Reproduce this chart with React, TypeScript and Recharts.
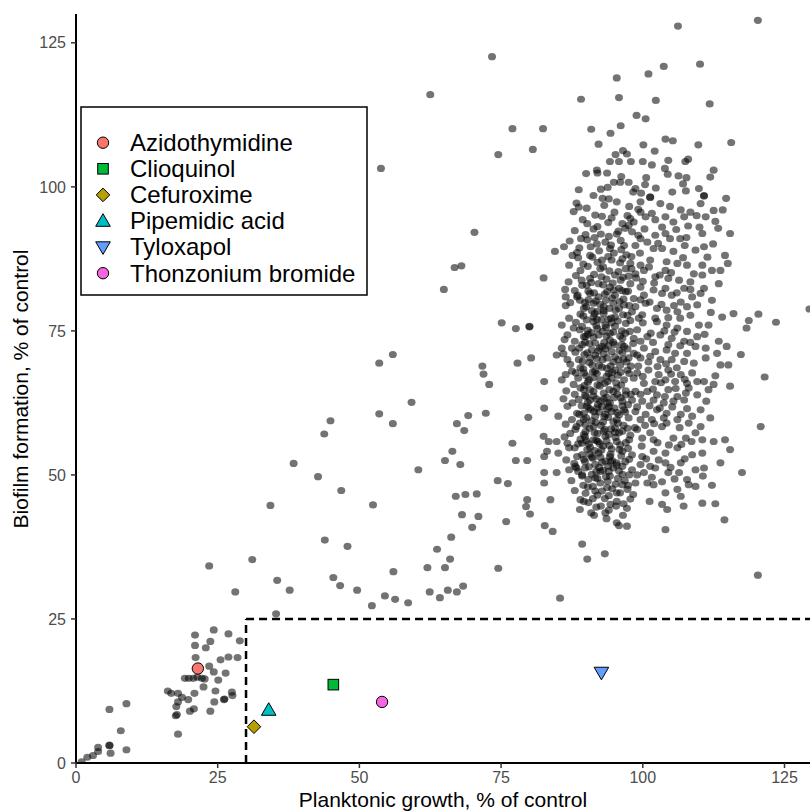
import React from 'react';
import { ScatterChart, Scatter, XAxis, YAxis, ReferenceLine } from 'recharts';

type Pt = [number, number];

const FONT = '"Liberation Sans", Arial, Helvetica, sans-serif';

const xTicks = [0, 25, 50, 75, 100, 125];
const yTicks = [0, 25, 50, 75, 100, 125];
const xMax = 129.5;
const yMax = 130;
// hit thresholds (dashed box)
const growthCut = 30;
const biofilmCut = 25;

// screening compounds: [planktonic growth, biofilm formation]
const lowCluster: Pt[] = [
    [1.0, 0.2], [2.0, 1.0], [3.0, 1.3], [3.9, 2.0], [3.9, 2.7], [5.9, 3.0], [5.9, 3.1], [6.1, 1.7], [8.9, 2.3], [7.9, 5.6], [5.9, 9.3], [8.9, 10.3],
    [18.0, 5.0], [17.6, 8.2], [17.8, 8.4], [20.1, 9.0], [20.8, 9.4], [23.7, 9.0], [17.7, 9.8], [18.0, 10.6], [24.4, 10.6], [26.1, 11.0], [26.2, 11.1],
    [16.2, 12.5], [16.8, 12.1], [18.0, 12.1], [18.7, 11.4], [19.8, 11.0], [20.9, 12.1], [24.6, 12.5], [27.5, 12.3], [27.6, 11.7], [22.5, 13.2],
    [19.2, 14.7], [19.9, 14.7], [20.7, 14.7], [21.4, 14.9], [22.2, 14.7], [22.7, 14.6], [25.1, 14.4], [23.5, 16.8], [24.3, 15.8], [26.4, 15.6],
    [25.5, 17.9], [26.9, 18.4], [28.5, 18.3], [21.1, 18.3], [21.0, 20.4], [22.9, 20.0], [23.7, 21.1], [21.0, 22.2], [24.3, 23.1], [26.9, 22.4],
    [28.9, 21.2], [28.1, 29.7], [23.5, 34.2], [31.1, 35.3],
];

const midScatter: Pt[] = [
    [34.3, 44.7], [52.4, 44.8], [43.9, 38.7], [47.9, 37.6], [56.0, 33.2], [45.4, 32.2], [46.6, 30.8], [49.6, 30.0], [35.5, 31.7], [37.7, 30.0],
    [35.3, 25.9], [54.5, 29.0], [56.3, 28.4], [58.6, 27.8], [52.2, 27.3],
    [62.4, 29.7], [64.2, 28.7], [65.6, 30.0], [67.2, 29.7], [68.3, 30.7], [62.0, 33.9], [65.1, 33.9], [66.0, 35.4], [63.7, 37.1], [66.2, 39.2],
    [68.1, 43.1], [71.0, 42.8], [69.9, 40.9], [75.9, 41.9], [74.5, 33.8], [85.4, 28.6], [82.7, 41.2], [84.1, 40.2], [80.1, 43.2], [79.4, 44.5], [79.6, 45.7],
    [89.3, 38.0], [90.2, 35.4], [93.3, 36.3], [90.9, 43.4], [91.4, 43.0], [93.4, 43.4], [95.4, 41.7], [95.8, 41.2], [97.2, 41.1], [97.2, 44.2],
    [94.0, 43.9], [101.2, 45.4], [103.4, 44.9], [104.3, 44.0], [104.0, 40.5], [107.2, 44.6], [110.5, 45.1], [112.8, 45.0], [114.4, 42.2], [120.3, 32.6],
    [75.1, 76.4], [77.6, 75.4], [80.0, 75.7], [80.0, 75.8], [55.9, 70.9], [53.5, 69.4], [71.7, 68.9], [71.9, 67.5], [72.9, 65.7], [77.9, 69.4],
    [80.3, 70.3], [59.2, 62.6], [53.5, 60.6], [55.9, 58.9], [69.2, 60.3], [72.3, 60.7], [67.2, 58.9], [68.5, 57.7], [79.8, 60.0], [66.4, 54.1],
    [65.1, 52.5], [67.8, 51.8], [60.4, 50.9], [77.0, 55.5], [77.6, 52.5], [79.6, 52.5], [74.4, 49.0], [76.2, 48.5], [67.0, 46.3], [68.7, 46.6],
    [70.7, 46.7], [44.9, 59.4], [43.8, 57.1], [38.4, 52.0], [42.7, 49.7], [46.8, 47.3],
    [66.8, 86.0], [68.0, 86.3], [64.9, 82.2],
];

const upperScatter: Pt[] = [
    [73.4, 122.6], [62.5, 116.0], [53.8, 103.2], [70.3, 92.1], [77.0, 110.1], [74.5, 105.6],
    [106.2, 127.9], [120.3, 128.9], [95.4, 118.9], [101.0, 119.6], [103.7, 120.9], [110.1, 121.3], [89.1, 115.2], [95.8, 115.5], [102.3, 115.0],
    [111.8, 114.4], [98.9, 112.4], [100.5, 111.8], [82.4, 110.1], [90.9, 110.0], [96.1, 110.6], [94.3, 109.3], [80.6, 106.5], [92.2, 107.4],
    [104.0, 108.3], [105.3, 108.0], [100.1, 107.3], [109.8, 107.3], [115.6, 107.7], [95.2, 105.6], [96.5, 106.3], [97.2, 105.7], [102.1, 106.2],
    [94.2, 104.4], [95.8, 104.4], [97.9, 104.4], [100.0, 104.4], [101.6, 103.8], [104.5, 104.6], [107.5, 104.4], [108.0, 104.8], [103.9, 103.2],
    [104.4, 102.2], [112.5, 102.9], [111.9, 101.7], [90.0, 102.3], [91.9, 102.9], [92.0, 102.4], [93.7, 102.4], [96.2, 101.8], [94.9, 100.8],
    [96.0, 100.8], [97.5, 100.8], [100.6, 101.6], [100.4, 100.4], [98.7, 99.7], [98.3, 99.1], [99.7, 98.9], [106.3, 101.9], [107.7, 101.6],
    [107.1, 100.5], [107.6, 99.3], [102.3, 99.8], [105.2, 99.1], [88.7, 99.5], [92.6, 99.6], [93.8, 99.9], [110.8, 98.4], [110.8, 98.5],
    [114.7, 98.0], [101.3, 98.2], [92.9, 98.0],
];

const rightScatter: Pt[] = [
    [120.4, 77.9], [118.7, 76.8], [118.3, 75.5], [123.5, 76.5], [129.4, 78.8], [117.3, 70.9], [121.5, 67.0], [120.8, 58.4], [117.5, 50.4],
];

const coreUpper: Pt[] = [
    [109.9, 99.7],
    [95.4, 97.4], [97.6, 96.6], [99.6, 97.4], [101.3, 98.2], [103.1, 97.1], [104.8, 96.6], [106.7, 96.0], [108.4, 95.6], [110.2, 97.1], [112.5, 95.9],
    [114.1, 96.0], [87.8, 95.7], [88.7, 96.5], [91.3, 98.5], [94.0, 97.9],
    [92.8, 94.9], [94.5, 94.6], [96.4, 93.6], [97.8, 94.5], [99.6, 95.6], [100.5, 94.8], [102.2, 94.3], [104.0, 94.8], [105.4, 93.9], [107.3, 94.8],
    [109.5, 95.0], [111.1, 94.8], [112.8, 94.0], [90.2, 93.6], [91.3, 92.7], [95.7, 92.3], [97.5, 93.3],
    [89.9, 91.7], [91.9, 90.1], [94.0, 91.4], [96.1, 90.7], [98.1, 92.2], [99.6, 91.0], [100.8, 90.4], [102.2, 91.6], [104.0, 91.9], [104.8, 91.0],
    [106.6, 91.0], [107.7, 91.2], [110.5, 91.9], [112.4, 90.1], [115.4, 91.9], [94.2, 89.3], [96.7, 89.8], [98.7, 89.8],
    [84.5, 88.8], [86.1, 89.6], [87.6, 88.1], [88.6, 87.7], [90.7, 88.1], [92.8, 87.3], [94.5, 87.3], [96.4, 87.5], [97.8, 86.7], [99.6, 86.4],
    [101.3, 87.3], [101.9, 89.3], [103.4, 89.3], [104.2, 87.0], [106.1, 86.7], [107.8, 86.4], [109.3, 89.0], [110.8, 89.6], [114.5, 88.1],
    [115.0, 86.7], [110.5, 86.4],
    [82.5, 84.2], [89.0, 85.5], [90.7, 84.1], [92.5, 85.8], [95.1, 84.7], [97.0, 85.8], [98.7, 84.9], [100.2, 85.5], [102.2, 84.4], [104.0, 85.5],
    [106.4, 83.8], [108.4, 83.5], [110.5, 84.7], [112.2, 85.5], [113.7, 85.5], [109.0, 84.9], [89.3, 82.9], [92.2, 83.2], [94.2, 82.6], [96.1, 83.8],
    [97.8, 83.2], [99.6, 82.6], [104.5, 84.1], [107.3, 82.4], [110.8, 82.4], [113.4, 83.2],
    [86.3, 82.2], [88.4, 80.9], [90.7, 81.5], [92.2, 80.9], [93.7, 81.8], [95.1, 81.2], [97.0, 81.8], [98.4, 80.6], [100.2, 81.2], [101.9, 82.1],
    [103.4, 81.5], [105.1, 81.2], [106.7, 80.0], [108.7, 80.9], [110.2, 81.5], [112.2, 80.3], [86.4, 80.9], [86.4, 79.4], [89.6, 78.9], [91.3, 79.8],
    [93.1, 79.2], [94.8, 79.8], [96.7, 79.5], [98.7, 79.2], [100.5, 79.8], [102.5, 78.9], [104.2, 78.6], [106.1, 78.3], [107.8, 79.2], [109.6, 79.5],
    [91.3, 77.4], [93.1, 78.0], [95.1, 77.4], [97.3, 77.7], [99.3, 77.2], [104.5, 77.3], [108.4, 77.7], [114.0, 77.4], [116.0, 78.0],
];

const coreLower: Pt[] = [
    [85.7, 76.0], [87.8, 75.5], [89.3, 75.8], [91.3, 76.6], [93.4, 76.0], [95.1, 75.8], [97.0, 76.3], [99.0, 75.2], [100.8, 74.0], [102.5, 76.6],
    [104.2, 76.0], [106.1, 75.5], [107.8, 74.9], [109.9, 76.0], [111.6, 76.0], [86.7, 74.3], [89.6, 74.0], [92.2, 74.3], [94.2, 74.6], [96.4, 73.7],
    [98.4, 73.7], [103.1, 74.3], [105.1, 73.7], [107.3, 73.2], [109.6, 74.0], [113.4, 73.2], [114.8, 72.3],
    [84.8, 70.8], [85.7, 72.0], [87.5, 72.0], [89.3, 72.6], [91.0, 71.7], [92.8, 72.3], [94.5, 71.4], [96.7, 72.3], [98.4, 71.1], [100.2, 72.0],
    [102.2, 71.4], [104.2, 71.7], [105.7, 71.1], [107.8, 71.1], [109.3, 72.3], [111.1, 72.0], [113.1, 71.1], [86.7, 70.0], [88.7, 70.0], [90.7, 70.3],
    [93.7, 70.3], [95.7, 70.0], [97.5, 70.3], [99.6, 70.3], [101.3, 70.6], [103.1, 70.0], [105.1, 70.0], [107.3, 69.7], [109.0, 69.4], [111.1, 70.3],
    [113.7, 69.1], [115.1, 69.1],
    [82.6, 66.2], [85.7, 66.5], [87.5, 68.0], [89.6, 67.7], [91.6, 68.0], [93.7, 68.5], [95.1, 68.2], [97.3, 68.2], [99.0, 67.7], [101.0, 68.2],
    [102.8, 67.4], [104.5, 68.2], [106.7, 67.4], [108.7, 67.7], [110.8, 66.2], [112.5, 65.7], [115.4, 65.4], [86.4, 67.4], [87.8, 65.7], [90.5, 66.5],
    [92.5, 66.5], [94.5, 66.8], [96.7, 66.5], [98.4, 66.8], [100.2, 65.9], [102.2, 66.2], [104.0, 66.5], [105.7, 66.2], [107.8, 65.9], [109.6, 66.2],
    [89.6, 64.8], [91.3, 64.5], [93.1, 64.2], [94.8, 64.5], [97.0, 63.9], [98.7, 64.5], [100.8, 64.5], [102.5, 63.9], [104.5, 64.8], [106.1, 63.6],
    [108.1, 65.1], [109.6, 63.9], [111.6, 64.8], [90.7, 63.0], [92.5, 62.8], [94.2, 62.5], [96.4, 62.8], [98.1, 63.0], [99.9, 62.8], [101.9, 63.0],
    [103.7, 62.5], [105.4, 62.8], [107.3, 63.0],
    [82.6, 61.6], [85.1, 60.2], [86.7, 61.9], [88.4, 60.7], [90.5, 61.6], [92.8, 61.9], [94.5, 61.0], [96.7, 61.3], [98.7, 61.0], [100.5, 60.5],
    [102.5, 61.3], [104.2, 60.7], [106.7, 60.5], [108.7, 60.2], [111.9, 59.9], [87.5, 59.6], [89.6, 59.6], [91.6, 60.2], [93.4, 60.5], [95.4, 59.6],
    [97.5, 59.9], [99.6, 59.6], [101.6, 59.6], [103.7, 59.9], [106.1, 59.6], [108.1, 59.0], [110.2, 58.4],
    [82.5, 56.7], [84.8, 55.8], [86.7, 55.5], [88.1, 57.9], [89.6, 57.0], [91.3, 58.4], [93.1, 57.6], [95.1, 58.1], [97.3, 58.1], [99.0, 57.9],
    [101.3, 57.3], [103.4, 58.4], [105.4, 56.4], [107.6, 56.4], [109.3, 57.3], [110.5, 56.1], [112.5, 55.8], [114.5, 56.1], [83.4, 55.8], [89.3, 55.5],
    [91.3, 56.1], [93.4, 56.7], [95.4, 55.8], [97.6, 56.1], [99.9, 56.4], [101.9, 56.1],
    [82.6, 53.2], [83.1, 54.1], [85.1, 53.8], [87.0, 54.7], [88.4, 53.2], [90.2, 54.4], [92.2, 53.8], [94.2, 53.2], [96.4, 54.1], [98.1, 53.5],
    [99.9, 53.2], [101.9, 54.1], [104.0, 53.8], [106.1, 54.7], [108.7, 53.5], [110.5, 53.8], [115.4, 54.4], [89.6, 52.7], [91.6, 51.8], [93.4, 52.4],
    [95.4, 52.1], [97.6, 52.7], [99.6, 51.8], [101.3, 51.5], [104.0, 52.1], [106.7, 52.1],
    [82.6, 50.4], [82.6, 48.6], [84.8, 50.4], [87.0, 50.9], [88.1, 51.5], [89.3, 49.8], [91.0, 50.1], [92.5, 50.6], [94.2, 49.8], [96.4, 50.1],
    [98.1, 50.9], [100.2, 50.4], [102.2, 51.2], [104.5, 50.4], [106.4, 50.4], [107.8, 49.2], [109.3, 50.9], [110.8, 51.2], [113.7, 52.1],
    [83.7, 45.7], [89.6, 45.4], [91.6, 47.2], [93.7, 47.8], [95.4, 46.9], [97.3, 47.5], [98.7, 48.6], [100.8, 48.6], [101.9, 48.3], [104.0, 46.9],
    [106.1, 47.5], [108.1, 48.3], [109.3, 48.0], [92.5, 48.6], [96.4, 48.3], [106.7, 46.3], [95.4, 45.4],
];

// overlapping compounds in the darkest part of the cloud
const coreDense: Pt[] = [
    [88.3, 97.2], [90.1, 96.3], [91.6, 95.1], [93.2, 96.8], [89.4, 94.3], [92.0, 93.1], [93.9, 93.8], [95.0, 95.6], [97.3, 95.0], [88.0, 92.4],
    [91.5, 91.2], [93.4, 90.4], [95.4, 91.8], [96.9, 92.8], [98.4, 93.9],
    [87.1, 90.6], [88.8, 89.4], [90.2, 90.8], [92.3, 88.9], [94.9, 88.5], [97.1, 88.2], [89.5, 86.6], [91.1, 87.8], [93.0, 86.1], [94.1, 85.4],
    [96.0, 86.8], [98.0, 87.9], [87.0, 86.4], [88.2, 84.6], [91.4, 84.8], [93.6, 84.0], [96.5, 84.3], [98.0, 85.8],
    [86.9, 83.5], [88.0, 82.0], [90.1, 82.9], [91.4, 81.6], [93.0, 83.0], [94.6, 80.7], [95.8, 82.4], [97.4, 81.9], [87.2, 79.9], [88.9, 80.3],
    [90.0, 79.2], [92.0, 78.4], [93.5, 80.3], [95.2, 78.6], [96.6, 80.5], [98.1, 78.3], [89.0, 77.9], [91.9, 77.0],
    [87.0, 77.2], [88.2, 76.5], [90.3, 75.1], [92.0, 75.4], [93.9, 77.0], [94.8, 74.8], [96.3, 75.0], [97.8, 76.8], [86.2, 73.5], [88.0, 73.2],
    [89.8, 73.0], [91.3, 73.9], [93.2, 73.0], [95.0, 72.6], [96.9, 74.6], [98.3, 72.8], [90.3, 74.4], [92.4, 72.0],
    [86.0, 71.0], [88.1, 71.3], [89.7, 70.9], [91.6, 70.8], [93.1, 71.0], [94.8, 69.6], [96.4, 71.2], [97.9, 68.9], [87.2, 69.2], [89.0, 68.6],
    [90.6, 69.5], [92.3, 69.0], [94.0, 67.6], [95.6, 67.3], [97.1, 69.6], [88.6, 66.8], [91.3, 66.9], [93.3, 65.9], [89.7, 65.5],
    [86.5, 64.6], [88.0, 64.0], [90.0, 63.6], [91.8, 63.2], [93.6, 63.5], [95.5, 64.0], [97.4, 62.2], [87.6, 62.5], [89.2, 62.0], [90.8, 61.3],
    [92.3, 60.9], [94.0, 61.8], [95.8, 60.4], [97.0, 64.6], [88.8, 60.5], [91.0, 59.4], [93.0, 59.2], [86.0, 63.2], [96.2, 65.6],
    [86.4, 58.8], [88.3, 58.4], [89.9, 58.7], [92.0, 57.2], [94.0, 57.0], [95.8, 57.3], [97.8, 56.9], [87.2, 57.2], [89.0, 56.2], [90.5, 55.4],
    [92.4, 55.4], [94.5, 54.5], [96.0, 55.2], [88.0, 54.7], [91.5, 54.2], [93.0, 55.0], [97.4, 54.6], [86.2, 56.6],
    [86.5, 52.6], [87.9, 52.0], [89.8, 51.2], [91.2, 52.9], [93.0, 50.8], [94.8, 51.2], [96.4, 51.5], [97.6, 50.0], [88.6, 50.6], [90.4, 49.2],
    [92.0, 49.4], [93.8, 48.9], [95.6, 49.4], [87.4, 49.0], [89.5, 48.2], [91.2, 48.0], [94.6, 47.6], [96.8, 49.0],
    [88.0, 47.3], [89.9, 46.8], [92.0, 46.5], [93.3, 45.9], [95.3, 44.6], [97.8, 45.8], [90.4, 45.2], [91.8, 44.4], [88.9, 44.0], [93.6, 42.4],
    [96.5, 43.0], [98.3, 46.6],
];

// second layer of the darkest core, x about 88 to 98
const coreDeep: Pt[] = [
    [89.1, 91.0], [90.8, 89.6], [92.6, 91.8], [94.4, 89.9], [96.2, 89.1], [88.4, 88.6], [90.3, 86.2], [92.0, 86.9], [93.9, 87.9], [95.7, 85.3],
    [97.5, 84.5], [89.2, 83.8], [90.9, 83.4], [92.7, 84.4], [94.7, 83.3], [96.3, 82.0], [88.5, 81.2], [90.4, 80.4], [92.5, 79.6], [94.1, 78.9],
    [95.9, 80.1], [97.6, 79.4], [89.5, 77.6], [91.0, 78.5], [92.7, 76.9], [94.5, 76.4], [96.5, 77.8], [88.9, 75.2], [90.9, 74.7], [92.9, 74.9],
    [94.2, 73.4], [96.0, 74.1], [97.7, 74.9], [88.8, 72.0], [90.6, 72.8], [92.1, 71.5], [93.9, 72.4], [95.9, 71.6], [97.3, 71.9], [89.4, 69.7],
    [91.1, 69.1], [92.9, 70.0], [94.3, 68.9], [96.0, 69.0], [97.6, 67.6], [88.2, 67.7], [90.0, 67.2], [91.9, 67.6], [93.6, 67.1], [95.3, 66.0],
    [89.0, 65.1], [90.7, 64.8], [92.4, 65.4], [94.1, 64.8], [96.1, 63.4], [97.9, 64.0], [88.7, 63.1], [90.3, 62.6], [92.1, 62.2], [93.8, 62.5],
    [95.0, 61.6], [96.9, 60.9], [89.6, 60.7], [91.4, 61.0], [93.2, 60.1], [94.8, 59.2], [96.6, 58.6], [88.9, 59.0], [90.6, 58.1], [92.6, 58.6],
    [94.4, 58.0], [96.4, 57.6], [89.8, 56.6], [91.8, 56.0], [93.6, 55.9], [95.2, 56.5], [97.0, 55.6], [88.6, 55.4], [90.7, 54.8], [92.7, 54.3],
    [94.3, 53.6], [96.2, 53.3], [89.3, 53.5], [91.0, 53.1], [92.8, 52.2], [94.6, 52.5], [96.9, 52.3], [88.3, 51.2], [90.5, 51.4], [92.3, 51.3],
    [94.0, 50.6], [95.8, 50.7], [89.3, 50.0], [91.6, 49.5], [93.5, 49.7], [95.2, 48.4], [97.4, 48.2], [90.3, 47.9], [92.8, 47.2], [94.0, 46.4],
    [96.0, 46.9], [89.0, 45.7], [91.2, 45.9], [94.3, 44.9], [96.6, 45.0], [92.6, 44.6], [99.2, 91.6], [98.8, 84.2], [99.0, 70.8], [98.6, 58.2],
];

// third layer where the reference cloud is nearly solid, x about 89 to 96
const coreBlack: Pt[] = [
    [90.4, 81.9], [91.7, 80.2], [93.3, 81.4], [94.9, 82.1], [89.8, 79.9], [91.5, 78.0], [93.1, 78.5], [94.4, 77.2], [95.8, 78.9], [90.1, 76.9],
    [91.8, 75.9], [93.5, 75.6], [95.6, 76.7], [89.9, 74.0], [91.6, 72.9], [93.6, 74.1], [94.8, 73.0], [96.3, 72.6], [90.2, 71.2], [91.9, 70.2],
    [93.4, 71.9], [95.1, 70.5], [96.6, 70.1], [89.5, 68.4], [91.2, 67.9], [92.8, 68.7], [94.6, 67.8], [96.1, 67.8], [90.3, 66.1], [92.0, 65.6],
    [93.8, 66.2], [95.4, 65.1], [89.8, 63.8], [91.3, 63.7], [93.1, 63.2], [94.9, 63.4], [96.4, 62.0], [90.1, 61.9], [91.9, 61.6], [93.7, 61.4],
    [95.5, 60.8], [90.0, 59.9], [91.7, 59.1], [93.9, 60.0], [95.6, 59.0], [89.9, 57.5], [91.5, 57.3], [93.3, 57.9], [95.1, 57.4], [90.0, 55.9],
    [92.1, 55.8], [94.1, 55.1], [95.9, 54.4], [90.6, 53.6], [92.5, 53.1], [94.3, 52.3], [89.8, 52.3], [91.8, 50.6], [93.9, 51.5], [95.4, 51.7],
];

const coreRight: Pt[] = [
    [99.2, 96.1], [101.6, 95.4], [103.4, 93.0], [105.9, 92.6], [108.0, 93.2], [100.3, 92.7], [102.7, 90.2], [105.4, 88.8], [107.4, 89.8], [99.5, 88.5],
    [101.1, 86.1], [103.0, 84.7], [105.0, 85.1], [107.1, 87.7], [100.0, 83.6], [102.0, 83.3], [104.0, 82.4], [106.0, 81.6], [108.4, 82.2], [99.6, 80.4],
    [101.2, 80.0], [103.3, 79.6], [105.5, 79.4], [99.9, 77.8], [102.2, 77.2], [106.6, 77.2], [100.0, 76.4], [101.4, 74.6], [103.8, 75.0], [105.6, 74.8],
    [99.6, 73.2], [101.8, 73.0], [104.5, 72.6], [106.6, 72.4], [108.4, 73.0], [99.2, 68.9], [101.0, 69.6], [102.6, 68.8], [104.1, 69.3], [106.0, 68.6],
    [100.0, 67.1], [103.2, 66.0], [105.0, 67.5], [107.4, 66.6], [99.6, 64.0], [101.8, 64.9], [103.9, 63.6], [105.8, 65.0], [107.6, 64.2], [99.0, 61.8],
    [101.2, 62.0], [103.0, 61.6], [105.2, 61.8], [107.8, 61.5], [110.2, 61.3], [100.4, 58.6], [102.0, 58.9], [104.2, 59.0], [106.5, 58.2], [99.8, 55.0],
    [102.6, 55.6], [104.6, 55.2], [106.8, 55.3], [108.6, 55.8], [100.6, 52.8], [102.8, 52.6], [104.9, 51.3], [107.4, 52.8], [99.0, 50.0], [101.6, 49.6],
    [103.4, 48.8], [105.6, 49.3], [110.6, 49.8], [112.2, 48.2], [111.2, 62.8], [112.8, 67.2], [110.9, 74.4], [112.0, 78.2], [111.4, 87.8], [113.3, 92.8],
    [110.0, 93.0],
];

// highlighted hits
const drugNames = ['Azidothymidine', 'Clioquinol', 'Cefuroxime', 'Pipemidic acid', 'Tyloxapol', 'Thonzonium bromide'];
const drugGrowth = [21.5, 45.4, 31.4, 34.0, 92.7, 54.0];
const drugBiofilm = [16.4, 13.6, 6.3, 9.2, 15.7, 10.6];
const drugColors = ['#F8766D', '#00BA38', '#B79F00', '#00BFC4', '#619CFF', '#F564E3'];
const drugShapes = ['circle', 'square', 'diamond', 'triangle', 'triangleDown', 'circle'];

const backgroundSets = [lowCluster, midScatter, upperScatter, rightScatter, coreUpper, coreLower, coreDense, coreRight, coreDeep, coreBlack];

const toRows = (pts: Pt[]) => pts.map(([x, y]) => ({ x, y }));

const GrayDot = (p: any) => (
    <ellipse cx={p.cx} cy={p.cy} rx={4.0} ry={3.6} fill="#000" fillOpacity={0.55} />
);

const marker = (kind: string, fill: string, cx: number, cy: number) => {
    const common = { fill, stroke: '#000', strokeWidth: 1 };
    switch (kind) {
        case 'square':
            return <rect x={cx - 5.3} y={cy - 5.3} width={10.6} height={10.6} {...common} />;
        case 'diamond':
            return <polygon points={`${cx},${cy - 6.8} ${cx + 6.8},${cy} ${cx},${cy + 6.8} ${cx - 6.8},${cy}`} {...common} />;
        case 'triangle':
            return <polygon points={`${cx},${cy - 7.3} ${cx + 7.3},${cy + 5.3} ${cx - 7.3},${cy + 5.3}`} {...common} />;
        case 'triangleDown':
            return <polygon points={`${cx - 7.3},${cy - 5.3} ${cx + 7.3},${cy - 5.3} ${cx},${cy + 7.3}`} {...common} />;
        default:
            return <circle cx={cx} cy={cy} r={5.7} {...common} />;
    }
};

const Overlay = () => (
    <svg width={810} height={812} style={{ position: 'absolute', left: 0, top: 0, pointerEvents: 'none' }}>
        <text x={443} y={807} textAnchor="middle" fontSize={21} fontFamily={FONT} fill="#000">
            Planktonic growth, % of control
        </text>
        <text x={28} y={389} textAnchor="middle" fontSize={21} fontFamily={FONT} fill="#000" transform="rotate(-90 28 389)">
            Biofilm formation, % of control
        </text>
        <rect x={81} y={107} width={286} height={188} fill="#fff" stroke="#000" strokeWidth={1.5} />
        {drugNames.map((name, i) => (
            <g key={name}>
                {marker(drugShapes[i], drugColors[i], 103, 142.7 + i * 26.1)}
                <text x={130} y={151 + i * 26.1} fontSize={24} fontFamily={FONT} fill="#000">{name}</text>
            </g>
        ))}
    </svg>
);

export default function App() {
    return (
        <div style={{ position: 'absolute', left: 0, top: 0, width: 810, height: 812, background: '#fff' }}>
            <ScatterChart width={810} height={812} margin={{ top: 14, right: 0, bottom: 0, left: 0 }}>
                <XAxis
                    type="number" dataKey="x" domain={[0, xMax]} ticks={xTicks} allowDataOverflow interval={0}
                    height={49} tickSize={5} tickMargin={4}
                    tick={{ fill: '#4D4D4D', fontSize: 16, fontFamily: FONT }}
                    tickLine={{ stroke: '#333', strokeWidth: 1.5 }}
                    axisLine={{ stroke: '#000', strokeWidth: 2 }}
                />
                <YAxis
                    type="number" dataKey="y" domain={[0, yMax]} ticks={yTicks} allowDataOverflow interval={0}
                    width={76} tickSize={5} tickMargin={5}
                    tick={{ fill: '#4D4D4D', fontSize: 16, fontFamily: FONT }}
                    tickLine={{ stroke: '#333', strokeWidth: 1.5 }}
                    axisLine={{ stroke: '#000', strokeWidth: 2 }}
                />
                {backgroundSets.map((pts, i) => (
                    <Scatter key={i} data={toRows(pts)} shape={GrayDot} isAnimationActive={false} />
                ))}
                <ReferenceLine
                    segment={[{ x: growthCut, y: 0 }, { x: growthCut, y: biofilmCut }]}
                    stroke="#000" strokeWidth={2.5} strokeDasharray="8 5" ifOverflow="visible"
                />
                <ReferenceLine
                    segment={[{ x: growthCut, y: biofilmCut }, { x: xMax, y: biofilmCut }]}
                    stroke="#000" strokeWidth={2.5} strokeDasharray="8 5" ifOverflow="visible"
                />
                {drugNames.map((name, i) => (
                    <Scatter
                        key={name}
                        name={name}
                        data={[{ x: drugGrowth[i], y: drugBiofilm[i] }]}
                        shape={(p: any) => marker(drugShapes[i], drugColors[i], p.cx, p.cy)}
                        isAnimationActive={false}
                    />
                ))}
            </ScatterChart>
            <Overlay />
        </div>
    );
}
